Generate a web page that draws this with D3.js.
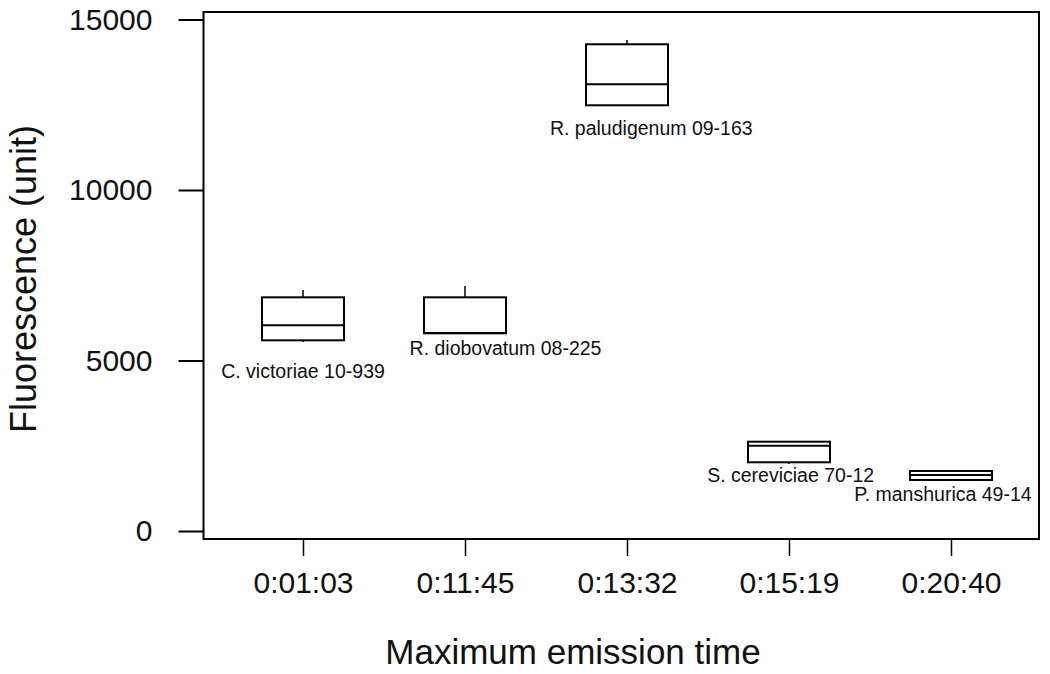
<!DOCTYPE html>
<html>
<head>
<meta charset="utf-8">
<script src="https://cdn.jsdelivr.net/npm/d3@7"></script>
<style>
  html, body { margin: 0; padding: 0; background: #fff; }
  svg { display: block; font-family: Arial, "Liberation Sans", sans-serif; }
</style>
</head>
<body>
<svg id="chart" width="1050" height="674"></svg>
<script>
// ---- Data ----
const categories = ["0:01:03", "0:11:45", "0:13:32", "0:15:19", "0:20:40"];
const strains = ["C. victoriae 10-939", "R. diobovatum 08-225", "R. paludigenum 09-163", "S. cereviciae 70-12", "P. manshurica 49-14"];
const whiskerLow = [5540, 5798, 12484, 1965, 1496];
const q1Values = [5592, 5798, 12484, 2015, 1496];
const medianValues = [6032, 5810, 13100, 2501, 1642];
const q3Values = [6853, 6853, 14273, 2619, 1760];
const whiskerHigh = [7067, 7185, 14399, 2619, 1760];
const yTicks = [0, 5000, 10000, 15000];
// label anchor offsets (in category steps / data units) relative to the box
const labelDx = [0, 0.25, 0.15, 0.01, -0.05];
const labelValue = [4500, 5150, 11620, 1450, 890];

// ---- Layout ----
const frame = { left: 203.5, right: 1039, top: 12, bottom: 539 };

const svg = d3.select("#chart");

const x = d3.scalePoint().domain(categories).range([303, 951]);
const step = x.step();
const y = d3.scaleLinear().domain([0, 15000]).range([531, 19.5]);

// frame
svg.append("rect")
  .attr("x", frame.left).attr("y", frame.top)
  .attr("width", frame.right - frame.left).attr("height", frame.bottom - frame.top)
  .attr("fill", "none").attr("stroke", "#000").attr("stroke-width", 2);

// y axis
const yAxis = d3.axisLeft(y).tickValues(yTicks).tickSize(25).tickPadding(26).tickFormat(d3.format("d"));
const gy = svg.append("g").attr("transform", `translate(${frame.left},0)`).call(yAxis);
gy.select(".domain").remove();
gy.selectAll(".tick line").attr("stroke", "#000").attr("stroke-width", 2);
gy.selectAll(".tick text").attr("font-size", 30).attr("fill", "#111")
  .attr("font-family", "Arial, 'Liberation Sans', sans-serif");

// x axis
const xAxis = d3.axisBottom(x).tickSize(17).tickPadding(16);
const gx = svg.append("g").attr("transform", `translate(0,${frame.bottom})`).call(xAxis);
gx.select(".domain").remove();
gx.selectAll(".tick line").attr("stroke", "#000").attr("stroke-width", 1.5);
gx.selectAll(".tick text").attr("font-size", 30).attr("fill", "#111")
  .attr("font-family", "Arial, 'Liberation Sans', sans-serif");

// boxes
const halfW = 41;
const data = categories.map((c, i) => ({
  c, lo: whiskerLow[i], q1: q1Values[i], med: medianValues[i], q3: q3Values[i], hi: whiskerHigh[i],
  label: strains[i], ldx: labelDx[i], lv: labelValue[i]
}));

const g = svg.append("g");
const box = g.selectAll("g.box").data(data).join("g").attr("class", "box");

box.append("line")
  .attr("x1", d => x(d.c)).attr("x2", d => x(d.c))
  .attr("y1", d => y(d.hi)).attr("y2", d => y(d.q3))
  .attr("stroke", "#000").attr("stroke-width", 1.5);
box.append("line")
  .attr("x1", d => x(d.c)).attr("x2", d => x(d.c))
  .attr("y1", d => y(d.q1)).attr("y2", d => y(d.lo))
  .attr("stroke", "#000").attr("stroke-width", 1.5);
box.append("rect")
  .attr("x", d => x(d.c) - halfW).attr("width", halfW * 2)
  .attr("y", d => y(d.q3)).attr("height", d => y(d.q1) - y(d.q3))
  .attr("fill", "none").attr("stroke", "#000").attr("stroke-width", 2);
box.append("line")
  .attr("x1", d => x(d.c) - halfW).attr("x2", d => x(d.c) + halfW)
  .attr("y1", d => y(d.med)).attr("y2", d => y(d.med))
  .attr("stroke", "#000").attr("stroke-width", 2);

box.append("text")
  .attr("x", d => x(d.c) + d.ldx * step)
  .attr("y", d => y(d.lv))
  .attr("text-anchor", "middle")
  .attr("font-size", 19.5)
  .attr("fill", "#111")
  .text(d => d.label);

// axis titles
svg.append("text")
  .attr("x", 573).attr("y", 664)
  .attr("text-anchor", "middle").attr("font-size", 35).attr("fill", "#111")
  .text("Maximum emission time");
svg.append("text")
  .attr("transform", "translate(36,279) rotate(-90)")
  .attr("text-anchor", "middle").attr("font-size", 36).attr("fill", "#111")
  .text("Fluorescence (unit)");
</script>
</body>
</html>
